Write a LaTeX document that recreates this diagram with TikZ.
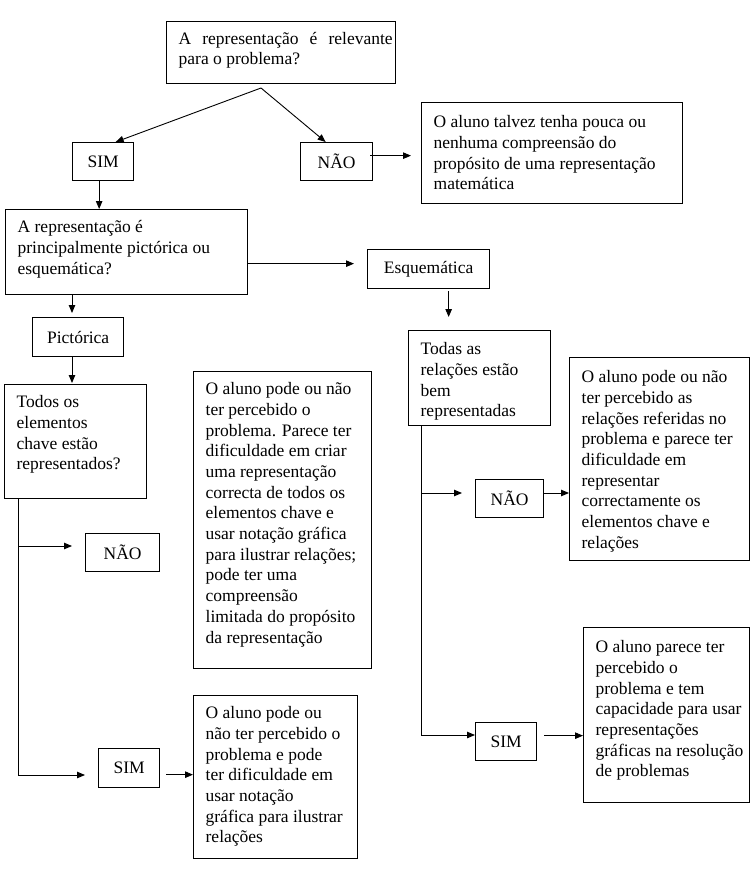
\documentclass[tikz,border=0pt]{standalone}
\usepackage{fontspec}
\setmainfont{Liberation Serif}
\usetikzlibrary{arrows.meta,calc}
\newcommand\bxt[4]{\vbox to #2pt{\hsize=#1pt\parindent=0pt\leftskip=12pt\rightskip=0pt plus 1fil\relax
\fontsize{17.5pt}{20.7pt}\selectfont\kern#3pt\hbox{}#4\par\vfil}}
\tikzset{
  box/.style={draw, line width=1.3pt, inner sep=0pt, anchor=north west, font=\fontsize{17.5pt}{20.7pt}\selectfont},
  arr/.style={-{Triangle[length=8pt,width=6.5pt]}, line width=0.9pt},
  ln/.style={line width=0.9pt}
}
\begin{document}
\begin{tikzpicture}[x=1pt,y=-1pt]
\useasboundingbox (0,0) rectangle (751,869);
% boxes
\node[box] (top) at (166,21) {\bxt{229}{62}{1.8}{\makebox[214pt][s]{A representação é relevante}\\para o problema?}};
\node[box, minimum width=61pt, minimum height=38pt] (sim1) at (72,142) {SIM};
\node[box, minimum width=72pt, minimum height=38pt] (nao1) at (300,142) {NÃO};
\node[box] (note1) at (421,102) {\bxt{261}{101}{4.3}{O aluno talvez tenha pouca ou\\nenhuma compreensão do\\propósito de uma representação\\matemática}};
\node[box] (q2) at (5,209) {\bxt{242}{85}{2.3}{A representação é\\principalmente pictórica ou\\esquemática?}};
\node[box, minimum width=122pt, minimum height=39pt] (esq) at (367,249) {Esquemática};
\node[box, minimum width=91pt, minimum height=39pt] (pict) at (32,317) {Pictórica};
\node[box] (todas) at (408,330) {\bxt{142}{95}{3.3}{Todas as\\relações estão\\bem\\representadas}};
\node[box] (rn1) at (569,357) {\bxt{180}{203}{4.3}{O aluno pode ou não\\ter percebido as\\relações referidas no\\problema e parece ter\\dificuldade em\\representar\\correctamente os\\elementos chave e\\relações}};
\node[box] (mid) at (193,371) {\bxt{178}{297}{2.3}{O aluno pode ou não\\ter percebido o\\problema. Parece ter\\dificuldade em criar\\uma representação\\correcta de todos os\\elementos chave e\\usar notação gráfica\\para ilustrar relações;\\pode ter uma\\compreensão\\limitada do propósito\\da representação}};
\node[box] (todos) at (4,384) {\bxt{142}{114}{2.3}{Todos os\\elementos\\chave estão\\representados?}};
\node[box, minimum width=74pt, minimum height=38pt] (nao2) at (85,533) {NÃO};
\node[box, minimum width=68pt, minimum height=38pt] (nao3) at (475,479) {NÃO};
\node[box] (rn2) at (583,627) {\bxt{166}{175}{4.3}{O aluno parece ter\\percebido o\\problema e tem\\capacidade para usar\\representações\\gráficas na resolução\\de problemas}};
\node[box, minimum width=61pt, minimum height=38pt] (sim2) at (475,722) {SIM};
\node[box] (bnote) at (193,695) {\bxt{164}{163}{2.3}{O aluno pode ou\\não ter percebido o\\problema e pode\\ter dificuldade em\\usar notação\\gráfica para ilustrar\\relações}};
\node[box, minimum width=61pt, minimum height=39pt] (sim3) at (98,748) {SIM};
% junction coordinates
\coordinate (split) at (261,88);
\coordinate (jn2) at (18,546);
\coordinate (js3) at (18,775);
\coordinate (jn3) at (421,493);
\coordinate (js2) at (421,735);
\coordinate (n1a) at ($(nao1.east)+(-3,-6)$);
\coordinate (s1b) at ($(sim1.south)+(-4,0)$);
\coordinate (q2e) at ($(q2.east)+(0,11.5)$);
\coordinate (esb) at ($(esq.south)+(20,2)$);
\coordinate (q2b) at ($(q2.south west)+(67,0)$);
\coordinate (pb) at ($(pict.south west)+(40,0)$);
\coordinate (s3e) at ($(sim3.east)+(6,6.5)$);
\coordinate (s2e) at ($(sim2.east)+(7,-6)$);
% connectors
\draw[arr] (split) -- ($(sim1.north)+(12.5,0)$);
\draw[arr] (split) -- ($(nao1.north)+(-11,0)$);
\draw[arr, shorten >=10pt] (n1a) -- (n1a -| note1.west);
\draw[arr] (s1b) -- (s1b |- q2.north);
\draw[arr, shorten >=13pt] (q2e) -- (q2e -| esq.west);
\draw[arr, shorten >=13pt] (esb) -- (esb |- todas.north);
\draw[arr, shorten >=4pt] (q2b) -- (q2b |- pict.north);
\draw[arr, shorten >=1pt] (pb) -- (pb |- todos.north);
\draw[arr, shorten >=13pt] (js3 |- todos.south) -- (js3) -- (sim3.west |- js3);
\draw[arr, shorten >=13pt] (jn2) -- (nao2.west |- jn2);
\draw[arr] (s3e) -- (s3e -| bnote.west);
\draw[arr] (js2 |- todas.south) -- (js2) -- (sim2.west |- js2);
\draw[arr, shorten >=13pt] (jn3) -- (nao3.west |- jn3);
\draw[arr] (nao3.east |- jn3) -- (rn1.west |- jn3);
\draw[arr] (s2e) -- (s2e -| rn2.west);
\end{tikzpicture}
\end{document}
